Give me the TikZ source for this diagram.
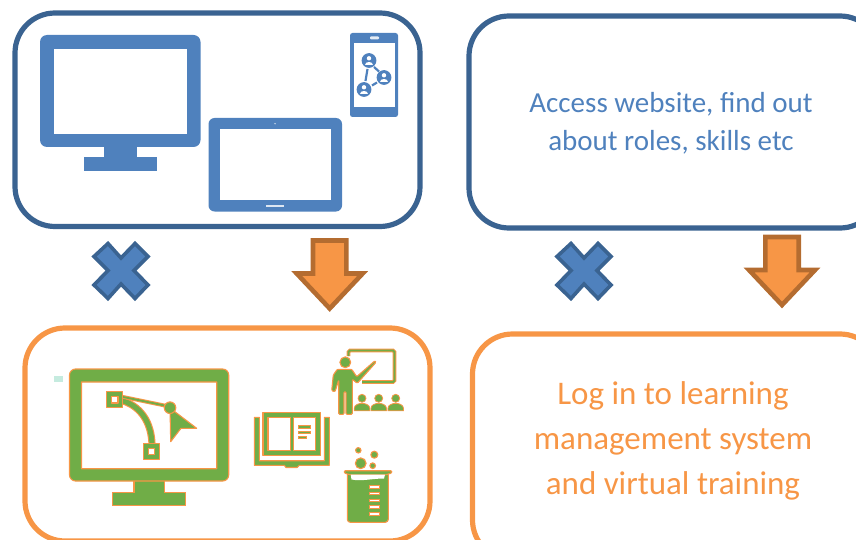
\documentclass[tikz,border=0pt]{standalone}
\usepackage{fontspec}
\setmainfont{Carlito}
\definecolor{boxblue}{HTML}{3A6391}
\definecolor{iconblue}{HTML}{4F81BD}
\definecolor{boxorange}{HTML}{F79646}
\definecolor{arrowbrown}{HTML}{B46C30}
\definecolor{icongreen}{HTML}{70AD47}
\definecolor{speckteal}{HTML}{C5EBDF}
\usetikzlibrary{calc,positioning}
\tikzset{
    bluebox/.style={draw=boxblue, line width=5.2pt, rounded corners=40pt},
    orangebox/.style={draw=boxorange, line width=5.2pt, rounded corners=40pt},
    blueicon/.style={fill=iconblue, even odd rule},
    greenicon/.style={fill=icongreen, draw=boxorange, line width=1.1pt, even odd rule, line join=round},
    bluetext/.style={text=iconblue, font=\fontsize{29}{38}\selectfont, align=center},
    orangetext/.style={text=boxorange, font=\fontsize{33}{45}\selectfont, align=center},
    nomark/.pic={
        \draw[fill=iconblue, draw=boxblue, line width=3.6pt, miter limit=10]
            (0,-12.5) -- (14,-27) -- (27,-14) -- (13,0) -- (27,14.5) -- (14,28) -- (0,13.5)
            -- (-13,28) -- (-27,14.5) -- (-13,0) -- (-27,-14) -- (-13,-27) -- cycle;
    },
    yesmark/.pic={
        \draw[fill=boxorange, draw=arrowbrown, line width=4.6pt, miter limit=10]
            (-16.7,-33) -- (16.7,-33) -- (16.7,0) -- (33,0) -- (0,35) -- (-33,0) -- (-16.7,0) -- cycle;
    },
    learner/.pic={
        \fill[icongreen, draw=boxorange, line width=0.8pt] (0,0) circle (4);
        \fill[icongreen, draw=boxorange, line width=0.8pt]
            (-7.8,12.5) -- (-7.8,10) .. controls (-7.8,6.5) and (-3,5) .. (0,5)
            .. controls (3,5) and (7.8,6.5) .. (7.8,10) -- (7.8,12.5) -- cycle;
    },
    contact/.pic={
        \fill[iconblue] (0,0) circle (7.4);
        \fill[white] (0,-2.2) circle (2.2);
        \fill[white] (-4.4,4.2) .. controls (-4.4,1) and (4.4,1) .. (4.4,4.2) -- cycle;
    }
}

\begin{document}
\begin{tikzpicture}[x=1pt, y=-1pt]
    \useasboundingbox (0,0) rectangle (856,540);
    \clip (0,0) rectangle (856,540);

    % Draw the four boxes
    \draw[bluebox] (15,13) rectangle (420,226.5);
    \draw[bluebox] (469,16) rectangle (880,228);
    \draw[orangebox] (25,328) rectangle (430,541);
    \draw[orangebox] (472.5,334) rectangle (880,560);

    % Draw desktop, tablet and phone
    \path[blueicon, rounded corners=7pt] (40,35) rectangle (200.5,147);
    \fill[white] (54,49) rectangle (187,134);
    \fill[iconblue] (104,146) rectangle (137,158);
    \fill[iconblue] (84,157.5) rectangle (157,171.5);

    \fill[iconblue, rounded corners=6pt] (208.5,118) rectangle (342,211.5);
    \fill[white] (220,129.5) rectangle (330.5,200);
    \fill[white!80!iconblue] (266,205) rectangle (284,207);
    \fill[white!70!iconblue] (275,123.7) circle (0.8);

    \fill[iconblue, rounded corners=2.5pt] (350,33) rectangle (398,117);
    \fill[white] (354,43) rectangle (394.5,107);
    \fill[white!85!iconblue, rounded corners=1pt] (370,36.3) rectangle (379,39.3);
    \draw[iconblue, line width=2.2pt] (367.5,69) -- (365.5,81);
    \draw[iconblue, line width=2.2pt] (374,67) -- (379,71.5);
    \draw[iconblue, line width=2.2pt] (372,85.5) -- (377,82.5);
    \pic at (369,60.5) {contact};
    \pic at (384,77.5) {contact};
    \pic at (364,89.5) {contact};

    % Draw crosses and arrows
    \pic at (121,270.5) {nomark};
    \pic at (584,270.5) {nomark};
    \pic at (329.7,273.5) {yesmark};
    \pic at (782,270) {yesmark};

    % Draw the small speck
    \fill[speckteal] (54,376) rectangle (63,382);

    % Draw green monitor
    \fill[icongreen, draw=boxorange, line width=1.1pt]
        (134,478) -- (134,492.3) -- (112.7,492.3) -- (112.7,505.3) -- (185.3,505.3)
        -- (185.3,492.3) -- (164.7,492.3) -- (164.7,478) -- cycle;
    \path[greenicon] [rounded corners=6pt] (69.5,369) rectangle (228.7,481)
        [sharp corners] (81.5,382) rectangle (216.7,468.7);

    % Draw curve tool on the monitor
    \draw[boxorange, line width=7.2pt] (120,400) .. controls (140,405) and (152,422) .. (152,446);
    \draw[icongreen, line width=5pt] (120,400) .. controls (140,405) and (152,422) .. (152,446);
    \draw[boxorange, line width=3.8pt] (121,396.5) -- (167,406);
    \draw[icongreen, line width=1.8pt] (121,396.5) -- (167,406);
    \path[greenicon] (106.7,391.3) rectangle (122.7,407.3) (111.7,396.5) rectangle (118,403);
    \path[greenicon] (143.3,443.3) rectangle (159.3,459.3) (148.2,448.3) rectangle (154.5,454.5);
    \path[greenicon] (170,408) -- (196.7,428.3) -- (181,428.3) -- (170.7,441.7) -- cycle;
    \path[greenicon] (170,407.7) circle (5.8);

    % Draw book
    \path[greenicon] (254.3,417.3) -- (259.3,417.3) -- (259.3,460.7) -- (324.3,460.7) -- (324.3,417.3)
        -- (329.3,417.3) -- (329.3,465.3) -- (299.3,465.3) -- (297,467.5) -- (286,467.5)
        -- (284.3,465.3) -- (254.3,465.3) -- cycle;
    \path[greenicon] (263,412.3) rectangle (320.7,455.7)
        (268,417.3) rectangle (290.3,450.7) (293.3,417.3) rectangle (315.7,450.7);
    \foreach \liney/\lineend in {426.7/310.7, 432.3/310.7, 437.3/306.5}
        \fill[icongreen, draw=boxorange, line width=0.6pt] (298.3,\liney-1.1) rectangle (\lineend,\liney+1.1);

    % Draw teacher, board and learners
    \draw[boxorange, line width=3.8pt, rounded corners=1.5pt] (348.5,356) -- (348.5,350.5) -- (394.5,350.5) -- (394.5,382) -- (362,382);
    \draw[icongreen, line width=1.9pt, rounded corners=1.5pt] (348.5,356) -- (348.5,350.5) -- (394.5,350.5) -- (394.5,382) -- (362,382);
    \path[greenicon] (345.3,362.3) circle (5.4);
    \path[greenicon, rounded corners=1pt] (337.3,369.3) -- (351.7,369.3) -- (356.7,376.7) -- (375,360.7)
        -- (376,362.3) -- (357.3,383.3) -- (352.3,379.3) -- (352.3,414.3) -- (346,414.3) -- (346,391.7)
        -- (344,391.7) -- (344,414.3) -- (338.7,414.3) -- (338.7,380) -- (335,391.7) -- (331.7,390.7)
        -- (333.3,375) -- cycle;
    \foreach \seatx in {362,378.7,395.7}
        \pic at (\seatx,398.3) {learner};

    % Draw beaker and bubbles
    \foreach \bubx/\buby/\bubr in {358.3/450.3/2.7, 374.3/454.7/3.5, 360.7/463.3/5.4, 372.7/465.7/2.8}
        \path[greenicon] (\bubx,\buby) circle (\bubr);
    \path[greenicon, rounded corners=3pt] (347.3,472) -- (388.3,472) -- (388.3,522.3) -- (347.3,522.3) -- cycle;
    \path[greenicon, rounded corners=1pt] (344.3,470.7) -- (391.7,470.7) -- (391.7,473) -- (385,475) -- (350.7,475) -- (344.3,473) -- cycle;
    \fill[white] (350.7,474.5) -- (385,474.5) -- (384,478.5) .. controls (372,478.5) and (362,481.5) .. (351.5,479.5) -- cycle;
    \foreach \ticky in {486.7,493.3,500,506.7,513.7}
        \fill[white, draw=boxorange, line width=0.4pt] (369.3,\ticky-1.2) rectangle (379.3,\ticky+1.2);

    % Draw texts
    \node[bluetext] (webtext) at (671,123.5) {Access website, find out\\about roles, skills etc};
    \node[orangetext] (lmstext) at (673,441) {Log in to learning\\management system\\and virtual training};
\end{tikzpicture}
\end{document}
